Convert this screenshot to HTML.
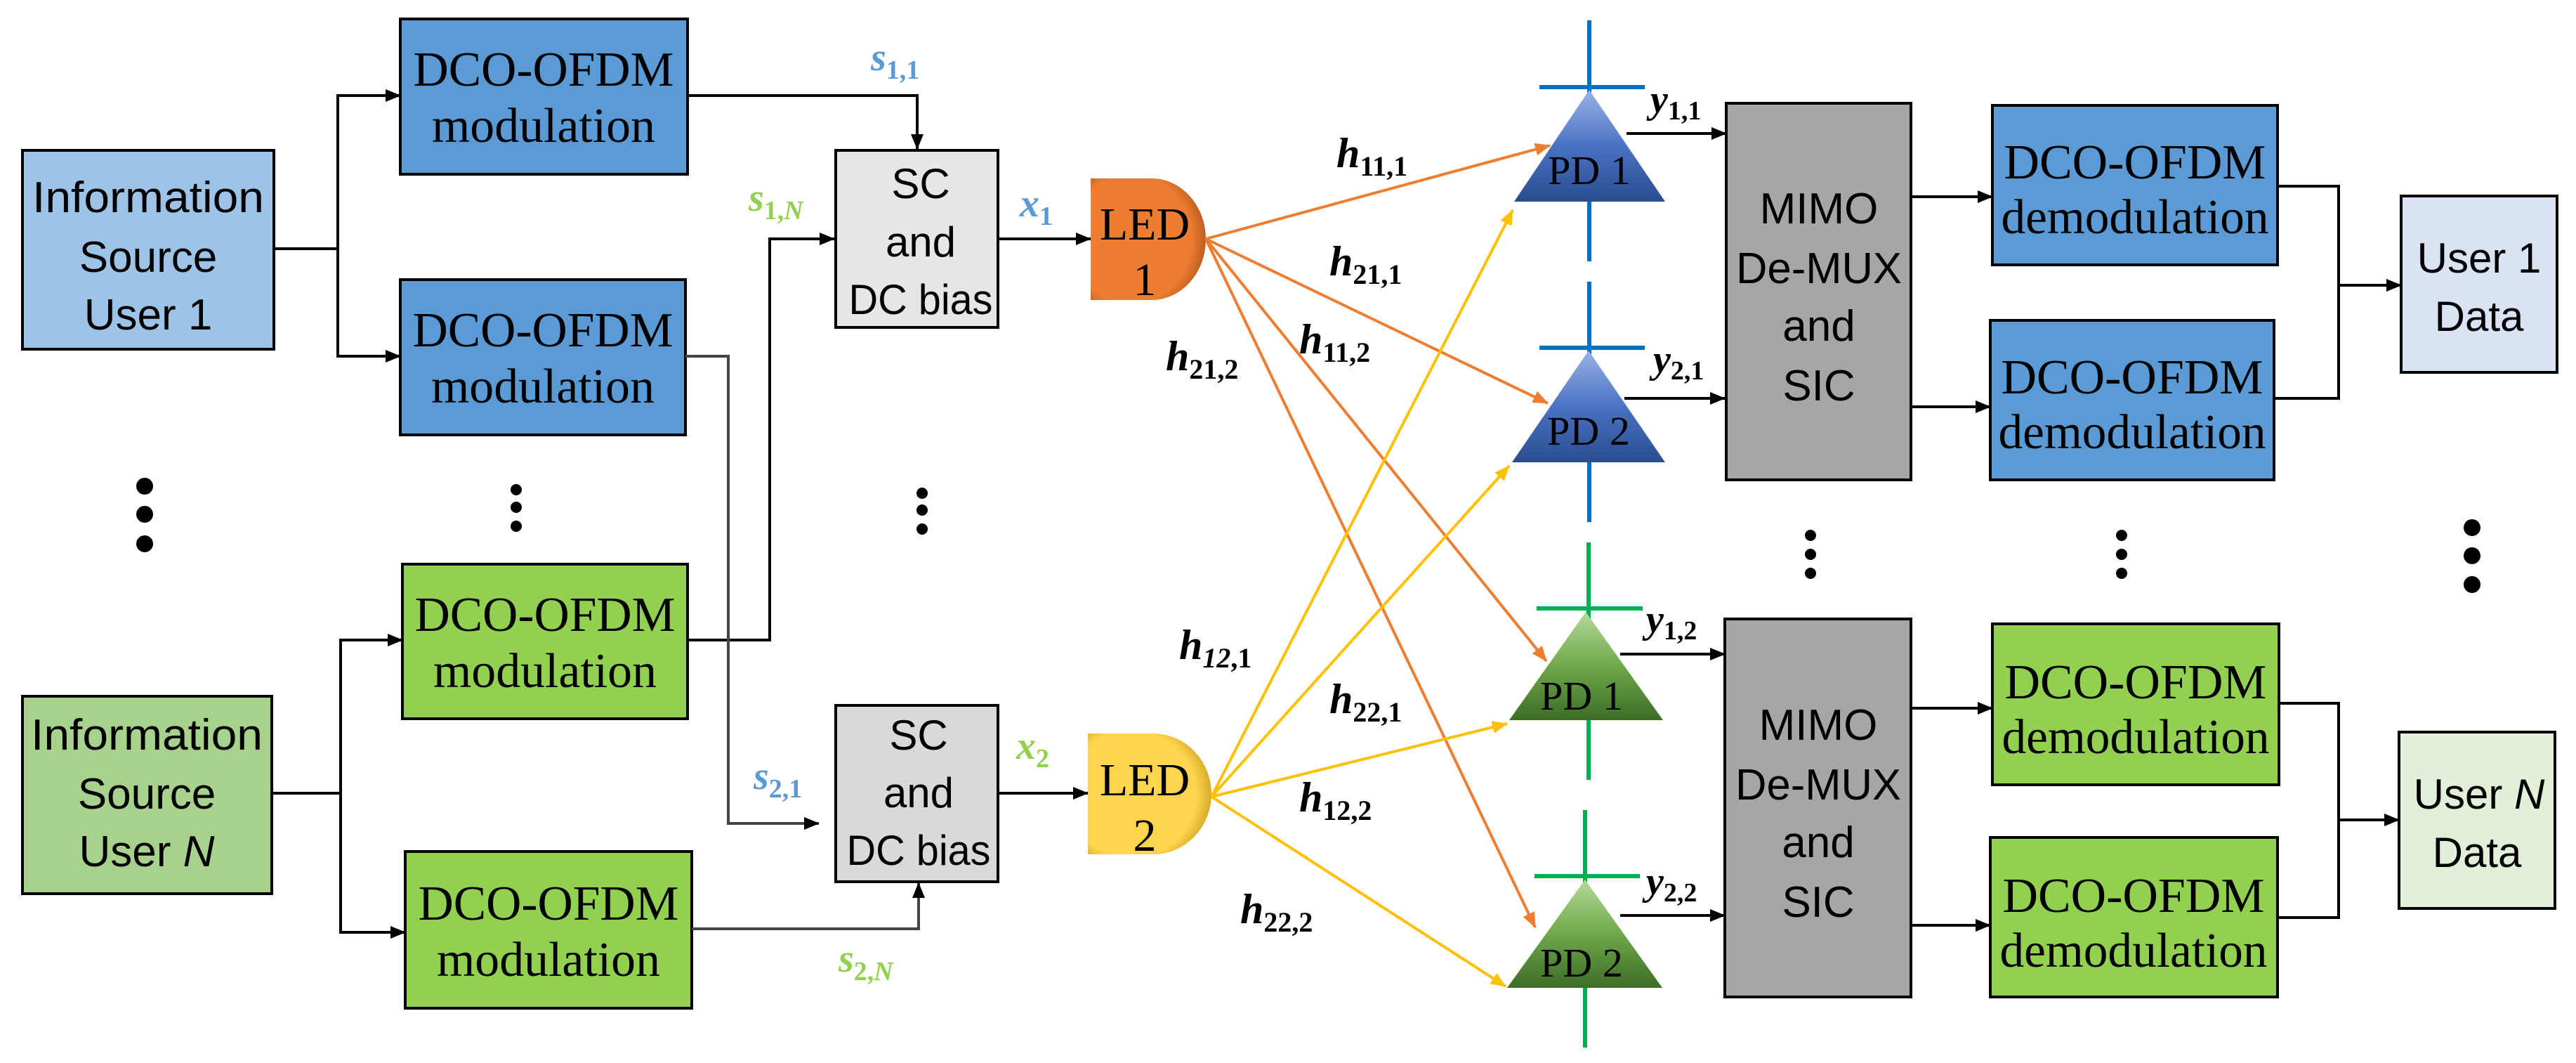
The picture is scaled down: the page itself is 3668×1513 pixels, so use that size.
<!DOCTYPE html>
<html><head><meta charset="utf-8"><style>
html,body{margin:0;padding:0;background:#fff;}
svg{display:block;}
</style></head><body>
<svg width="3668" height="1513" viewBox="0 0 3668 1513" xmlns="http://www.w3.org/2000/svg">
<defs>
<marker id="akb" markerWidth="22" markerHeight="22" refX="21" refY="11" orient="auto" markerUnits="userSpaceOnUse" viewBox="0 0 22 22"><path d="M0,2 L22,11 L0,20 z" fill="#000"/></marker>
<marker id="ao" markerWidth="22" markerHeight="22" refX="21" refY="11" orient="auto" markerUnits="userSpaceOnUse" viewBox="0 0 22 22"><path d="M0,2 L22,11 L0,20 z" fill="#ed7d31"/></marker>
<marker id="ay" markerWidth="22" markerHeight="22" refX="21" refY="11" orient="auto" markerUnits="userSpaceOnUse" viewBox="0 0 22 22"><path d="M0,2 L22,11 L0,20 z" fill="#ffc000"/></marker>
<linearGradient id="gb" x1="0" y1="0" x2="0" y2="1"><stop offset="0" stop-color="#9ab3e6"/><stop offset="0.5" stop-color="#4a72c4"/><stop offset="1" stop-color="#2a4d8f"/></linearGradient>
<linearGradient id="gg" x1="0" y1="0" x2="0" y2="1"><stop offset="0" stop-color="#b5d99a"/><stop offset="0.5" stop-color="#6fa84a"/><stop offset="1" stop-color="#3c6d26"/></linearGradient>
<radialGradient id="go" cx="0.35" cy="0.5" r="0.7"><stop offset="0.75" stop-color="#ed7d31"/><stop offset="1" stop-color="#a9531c"/></radialGradient>
<radialGradient id="gy" cx="0.35" cy="0.5" r="0.7"><stop offset="0.75" stop-color="#ffd54f"/><stop offset="1" stop-color="#c69a1a"/></radialGradient>
</defs>

<rect x="32" y="214" width="358" height="283" fill="#9dc3e6" stroke="#000" stroke-width="4"/>
<g font-family="Liberation Sans, sans-serif" font-size="62" text-anchor="middle" fill="#000">
<text x="211" y="302" textLength="330" lengthAdjust="spacingAndGlyphs">Information</text>
<text x="211" y="387">Source</text>
<text x="211" y="469">User 1</text>
</g>
<rect x="32" y="991" width="355" height="281" fill="#a9d18e" stroke="#000" stroke-width="4"/>
<g font-family="Liberation Sans, sans-serif" font-size="62" text-anchor="middle" fill="#000">
<text x="209" y="1067" textLength="330" lengthAdjust="spacingAndGlyphs">Information</text>
<text x="209" y="1151">Source</text>
<text x="209" y="1233">User <tspan font-style="italic">N</tspan></text>
</g>

<g stroke="#000" stroke-width="4" fill="none">
<polyline points="390,354 481,354"/>
<polyline points="570,136 481,136 481,507 570,507"/>
<polyline points="387,1129 485,1129"/>
<polyline points="573,911 485,911 485,1327 577,1327"/>
</g>
<g stroke="#000" stroke-width="4">
<line x1="540" y1="136" x2="570" y2="136" marker-end="url(#akb)"/>
<line x1="540" y1="507" x2="570" y2="507" marker-end="url(#akb)"/>
<line x1="540" y1="911" x2="573" y2="911" marker-end="url(#akb)"/>
<line x1="540" y1="1327" x2="577" y2="1327" marker-end="url(#akb)"/>
</g>

<g stroke="#000" stroke-width="4">
<rect x="570" y="27" width="409" height="221" fill="#5b9bd5"/>
<rect x="570" y="398" width="406" height="221" fill="#5b9bd5"/>
<rect x="573" y="803" width="406" height="220" fill="#92d050"/>
<rect x="577" y="1212" width="408" height="223" fill="#92d050"/>
</g>
<g font-family="Liberation Serif, serif" font-size="70" text-anchor="middle" fill="#000">
<text x="774" y="122" textLength="371" lengthAdjust="spacingAndGlyphs">DCO-OFDM</text>
<text x="774" y="202" textLength="318" lengthAdjust="spacingAndGlyphs">modulation</text>
<text x="773" y="493" textLength="371" lengthAdjust="spacingAndGlyphs">DCO-OFDM</text>
<text x="773" y="573" textLength="318" lengthAdjust="spacingAndGlyphs">modulation</text>
<text x="776" y="898" textLength="371" lengthAdjust="spacingAndGlyphs">DCO-OFDM</text>
<text x="776" y="978" textLength="318" lengthAdjust="spacingAndGlyphs">modulation</text>
<text x="781" y="1309" textLength="371" lengthAdjust="spacingAndGlyphs">DCO-OFDM</text>
<text x="781" y="1389" textLength="318" lengthAdjust="spacingAndGlyphs">modulation</text>
</g>

<g stroke="#000" stroke-width="4" fill="none">
<polyline points="979,136 1306,136 1306,212" marker-end="url(#akb)"/>
<polyline points="979,911 1096,911 1096,340 1188,340" marker-end="url(#akb)"/>
<polyline points="976,507 1037,507 1037,1172 1166,1172" stroke="#444" marker-end="url(#akb)"/>
<polyline points="985,1322 1308,1322 1308,1257" stroke="#444" marker-end="url(#akb)"/>
</g>

<rect x="1190" y="214" width="231" height="252" fill="#e7e6e6" stroke="#000" stroke-width="4"/>
<rect x="1190" y="1004" width="231" height="251" fill="#d9d9d9" stroke="#000" stroke-width="4"/>
<g font-family="Liberation Sans, sans-serif" font-size="60" text-anchor="middle" fill="#000">
<text x="1311" y="282">SC</text>
<text x="1311" y="365">and</text>
<text x="1311" y="447" textLength="205" lengthAdjust="spacingAndGlyphs">DC bias</text>
<text x="1308" y="1067">SC</text>
<text x="1308" y="1149">and</text>
<text x="1308" y="1231" textLength="205" lengthAdjust="spacingAndGlyphs">DC bias</text>
</g>

<g font-family="Liberation Serif, serif" font-weight="bold">
<text x="1240" y="100" fill="#5b9bd5" font-size="56"><tspan font-style="italic">s</tspan><tspan font-size="38" dy="12">1,1</tspan></text>
<text x="1066" y="300" fill="#92d050" font-size="56"><tspan font-style="italic">s</tspan><tspan font-size="38" dy="12">1,<tspan font-style="italic">N</tspan></tspan></text>
<text x="1073" y="1123" fill="#5b9bd5" font-size="56"><tspan font-style="italic">s</tspan><tspan font-size="38" dy="12">2,1</tspan></text>
<text x="1194" y="1383" fill="#92d050" font-size="56"><tspan font-style="italic">s</tspan><tspan font-size="38" dy="12">2,<tspan font-style="italic">N</tspan></tspan></text>
<text x="1452" y="308" fill="#5b9bd5" font-size="56"><tspan font-style="italic">x</tspan><tspan font-size="38" dy="12">1</tspan></text>
<text x="1447" y="1080" fill="#92d050" font-size="56"><tspan font-style="italic">x</tspan><tspan font-size="38" dy="12">2</tspan></text>
</g>

<g stroke="#000" stroke-width="4">
<line x1="1421" y1="340" x2="1553" y2="340" marker-end="url(#akb)"/>
<line x1="1421" y1="1129" x2="1549" y2="1129" marker-end="url(#akb)"/>
</g>

<path d="M1553,254 H1640 A77,86.5 0 0 1 1640,427 H1553 Z" fill="url(#go)"/>
<path d="M1549,1044 H1642 A83,86 0 0 1 1642,1216 H1549 Z" fill="url(#gy)"/>
<g font-family="Liberation Serif, serif" font-size="66" text-anchor="middle" fill="#000">
<text x="1630" y="341">LED</text>
<text x="1630" y="420">1</text>
<text x="1630" y="1132">LED</text>
<text x="1630" y="1211">2</text>
</g>

<g stroke-width="4" fill="none">
<line x1="1717" y1="340" x2="2207" y2="207" stroke="#ed7d31" marker-end="url(#ao)"/>
<line x1="1717" y1="340" x2="2204" y2="574" stroke="#ed7d31" marker-end="url(#ao)"/>
<line x1="1717" y1="340" x2="2202" y2="941" stroke="#ed7d31" marker-end="url(#ao)"/>
<line x1="1717" y1="340" x2="2186" y2="1320" stroke="#ed7d31" marker-end="url(#ao)"/>
<line x1="1725" y1="1134" x2="2154" y2="299" stroke="#ffc000" marker-end="url(#ay)"/>
<line x1="1725" y1="1134" x2="2149" y2="663" stroke="#ffc000" marker-end="url(#ay)"/>
<line x1="1725" y1="1134" x2="2146" y2="1030" stroke="#ffc000" marker-end="url(#ay)"/>
<line x1="1725" y1="1134" x2="2144" y2="1404" stroke="#ffc000" marker-end="url(#ay)"/>
</g>

<g font-family="Liberation Serif, serif" font-weight="bold" fill="#000" font-size="60">
<text x="1903" y="238"><tspan font-style="italic">h</tspan><tspan font-size="40" dy="12">11,1</tspan></text>
<text x="1893" y="392"><tspan font-style="italic">h</tspan><tspan font-size="40" dy="12">21,1</tspan></text>
<text x="1850" y="503"><tspan font-style="italic">h</tspan><tspan font-size="40" dy="12">11,2</tspan></text>
<text x="1660" y="527"><tspan font-style="italic">h</tspan><tspan font-size="40" dy="12">21,2</tspan></text>
<text x="1679" y="938"><tspan font-style="italic">h</tspan><tspan font-size="40" dy="12" font-style="italic">12</tspan><tspan font-size="40">,1</tspan></text>
<text x="1893" y="1015"><tspan font-style="italic">h</tspan><tspan font-size="40" dy="12">22,1</tspan></text>
<text x="1850" y="1155"><tspan font-style="italic">h</tspan><tspan font-size="40" dy="12">12,2</tspan></text>
<text x="1766" y="1314"><tspan font-style="italic">h</tspan><tspan font-size="40" dy="12">22,2</tspan></text>
</g>

<g stroke="#0070c0" stroke-width="6">
<line x1="2263" y1="29" x2="2263" y2="372"/>
<line x1="2192" y1="124" x2="2342" y2="124"/>
<line x1="2263" y1="401" x2="2263" y2="743"/>
<line x1="2192" y1="495" x2="2342" y2="495"/>
</g>
<g stroke="#00b050" stroke-width="6">
<line x1="2262" y1="772" x2="2262" y2="1110"/>
<line x1="2188" y1="866" x2="2339" y2="866"/>
<line x1="2257" y1="1153" x2="2257" y2="1491"/>
<line x1="2185" y1="1247" x2="2335" y2="1247"/>
</g>
<polygon points="2263,128 2371,287 2156,287" fill="url(#gb)"/>
<polygon points="2262,499 2371,658 2153,658" fill="url(#gb)"/>
<polygon points="2258,871 2368,1025 2149,1025" fill="url(#gg)"/>
<polygon points="2257,1252 2367,1406 2146,1406" fill="url(#gg)"/>
<g font-family="Liberation Serif, serif" font-size="58" text-anchor="middle" fill="#000">
<text x="2263" y="262">PD 1</text>
<text x="2262" y="633">PD 2</text>
<text x="2252" y="1010">PD 1</text>
<text x="2252" y="1390">PD 2</text>
</g>

<g font-family="Liberation Serif, serif" font-weight="bold" fill="#000" font-size="56">
<text x="2350" y="160"><tspan font-style="italic">y</tspan><tspan font-size="38" dy="10">1,1</tspan></text>
<text x="2354" y="530"><tspan font-style="italic">y</tspan><tspan font-size="38" dy="10">2,1</tspan></text>
<text x="2344" y="900"><tspan font-style="italic">y</tspan><tspan font-size="38" dy="10">1,2</tspan></text>
<text x="2344" y="1273"><tspan font-style="italic">y</tspan><tspan font-size="38" dy="10">2,2</tspan></text>
</g>
<g stroke="#000" stroke-width="4">
<line x1="2316" y1="190" x2="2458" y2="190" marker-end="url(#akb)"/>
<line x1="2313" y1="567" x2="2456" y2="567" marker-end="url(#akb)"/>
<line x1="2307" y1="931" x2="2456" y2="931" marker-end="url(#akb)"/>
<line x1="2307" y1="1303" x2="2456" y2="1303" marker-end="url(#akb)"/>
</g>

<rect x="2458" y="147" width="263" height="536" fill="#a6a6a6" stroke="#000" stroke-width="4"/>
<rect x="2456" y="881" width="265" height="538" fill="#a6a6a6" stroke="#000" stroke-width="4"/>
<g font-family="Liberation Sans, sans-serif" font-size="62" text-anchor="middle" fill="#000">
<text x="2590" y="318">MIMO</text>
<text x="2590" y="403" textLength="236" lengthAdjust="spacingAndGlyphs">De-MUX</text>
<text x="2590" y="485">and</text>
<text x="2590" y="570">SIC</text>
<text x="2589" y="1053">MIMO</text>
<text x="2589" y="1138" textLength="236" lengthAdjust="spacingAndGlyphs">De-MUX</text>
<text x="2589" y="1220">and</text>
<text x="2589" y="1305">SIC</text>
</g>

<g stroke="#000" stroke-width="4">
<line x1="2721" y1="280" x2="2837" y2="280" marker-end="url(#akb)"/>
<line x1="2721" y1="579" x2="2834" y2="579" marker-end="url(#akb)"/>
<line x1="2721" y1="1008" x2="2837" y2="1008" marker-end="url(#akb)"/>
<line x1="2721" y1="1317" x2="2834" y2="1317" marker-end="url(#akb)"/>
</g>

<g stroke="#000" stroke-width="4">
<rect x="2837" y="150" width="406" height="227" fill="#5b9bd5"/>
<rect x="2834" y="456" width="404" height="227" fill="#5b9bd5"/>
<rect x="2837" y="888" width="408" height="229" fill="#92d050"/>
<rect x="2834" y="1192" width="409" height="227" fill="#92d050"/>
</g>
<g font-family="Liberation Serif, serif" font-size="70" text-anchor="middle" fill="#000">
<text x="3040" y="254" textLength="373" lengthAdjust="spacingAndGlyphs">DCO-OFDM</text>
<text x="3040" y="332" textLength="381" lengthAdjust="spacingAndGlyphs">demodulation</text>
<text x="3036" y="560" textLength="373" lengthAdjust="spacingAndGlyphs">DCO-OFDM</text>
<text x="3036" y="638" textLength="381" lengthAdjust="spacingAndGlyphs">demodulation</text>
<text x="3041" y="994" textLength="373" lengthAdjust="spacingAndGlyphs">DCO-OFDM</text>
<text x="3041" y="1072" textLength="381" lengthAdjust="spacingAndGlyphs">demodulation</text>
<text x="3038" y="1298" textLength="373" lengthAdjust="spacingAndGlyphs">DCO-OFDM</text>
<text x="3038" y="1376" textLength="381" lengthAdjust="spacingAndGlyphs">demodulation</text>
</g>

<g stroke="#000" stroke-width="4" fill="none">
<polyline points="3243,265 3330,265 3330,567 3238,567"/>
<polyline points="3245,1001 3330,1001 3330,1306 3243,1306"/>
<line x1="3330" y1="406" x2="3419" y2="406" marker-end="url(#akb)"/>
<line x1="3330" y1="1167" x2="3416" y2="1167" marker-end="url(#akb)"/>
</g>

<rect x="3419" y="279" width="222" height="251" fill="#dae3f3" stroke="#000" stroke-width="4"/>
<rect x="3416" y="1042" width="222" height="251" fill="#e2f0d9" stroke="#000" stroke-width="4"/>
<g font-family="Liberation Sans, sans-serif" font-size="60" text-anchor="middle" fill="#000">
<text x="3530" y="388">User 1</text>
<text x="3530" y="471">Data</text>
<text x="3530" y="1151">User <tspan font-style="italic">N</tspan></text>
<text x="3527" y="1234">Data</text>
</g>

<g fill="#000">
<circle cx="206" cy="692" r="12"/><circle cx="206" cy="732" r="12"/><circle cx="206" cy="774" r="12"/>
<circle cx="735" cy="697" r="8"/><circle cx="735" cy="722" r="8"/><circle cx="735" cy="749" r="8"/>
<circle cx="1313" cy="702" r="8"/><circle cx="1313" cy="726" r="8"/><circle cx="1313" cy="753" r="8"/>
<circle cx="2578" cy="762" r="8"/><circle cx="2578" cy="789" r="8"/><circle cx="2578" cy="816" r="8"/>
<circle cx="3021" cy="762" r="8"/><circle cx="3021" cy="789" r="8"/><circle cx="3021" cy="816" r="8"/>
<circle cx="3520" cy="751" r="12"/><circle cx="3520" cy="791" r="12"/><circle cx="3520" cy="832" r="12"/>
</g>
</svg>
</body></html>
